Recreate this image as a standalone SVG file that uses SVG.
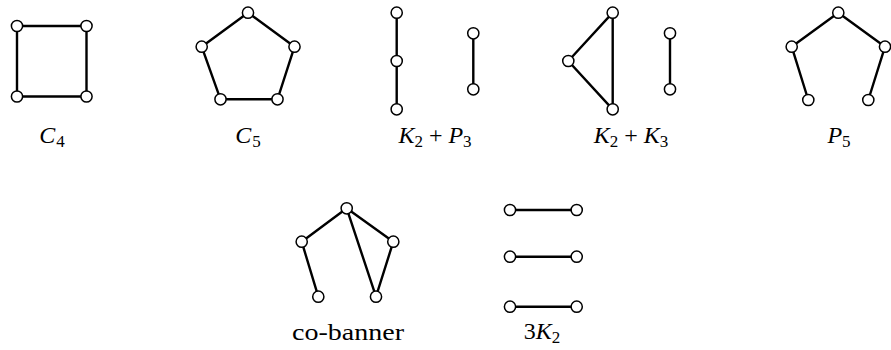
<svg xmlns="http://www.w3.org/2000/svg" width="891" height="350" viewBox="0 0 891 350">
<style>
.e{stroke:#000;stroke-width:2.4;fill:none;stroke-linecap:round}
text{font-family:'Liberation Serif','Times New Roman',serif;font-size:24px;fill:#000;text-anchor:middle}
.it{font-style:italic}
.sub{font-size:17px}
</style>
<defs><circle id="v" r="5.6" fill="#fff" stroke="#000" stroke-width="1.5"/></defs>
<rect width="891" height="350" fill="#fff"/>
<g id="connectors">
<path class="e" d="M17,26H86.5V96.5H17Z"/>
<path class="e" d="M248,12.7L294.5,46.7L277.5,99.3L220.5,99.3L201.7,46.7Z"/>
<path class="e" d="M396.7,12.7V109.3M473.3,33.3V89.3"/>
<path class="e" d="M568.3,61L612.7,12.7V109.3ZM670,33.3V89.3"/>
<path class="e" d="M808.3,100L791.7,46.7L838.3,12.7L885,46.7L868.3,100"/>
<path class="e" d="M318.3,296.7L301.7,241.7L346.7,208.3L393.3,241.7L376,296.7L346.7,208.3"/>
<path class="e" d="M510,210H576.7M510,256.7H576.7M510,306.7H576.7"/>
</g>
<g id="nodes">
<g id="c4-1"><use href="#v" x="17" y="26"/></g>
<g id="c4-2"><use href="#v" x="86.5" y="26"/></g>
<g id="c4-3"><use href="#v" x="17" y="96.5"/></g>
<g id="c4-4"><use href="#v" x="86.5" y="96.5"/></g>
<g id="c5-1"><use href="#v" x="248" y="12.7"/></g>
<g id="c5-2"><use href="#v" x="201.7" y="46.7"/></g>
<g id="c5-3"><use href="#v" x="294.5" y="46.7"/></g>
<g id="c5-4"><use href="#v" x="220.5" y="99.3"/></g>
<g id="c5-5"><use href="#v" x="277.5" y="99.3"/></g>
<g id="kp-1"><use href="#v" x="396.7" y="12.7"/></g>
<g id="kp-2"><use href="#v" x="396.7" y="61"/></g>
<g id="kp-3"><use href="#v" x="396.7" y="109.3"/></g>
<g id="kp-4"><use href="#v" x="473.3" y="33.3"/></g>
<g id="kp-5"><use href="#v" x="473.3" y="89.3"/></g>
<g id="kk-1"><use href="#v" x="568.3" y="61"/></g>
<g id="kk-2"><use href="#v" x="612.7" y="12.7"/></g>
<g id="kk-3"><use href="#v" x="612.7" y="109.3"/></g>
<g id="kk-4"><use href="#v" x="670" y="33.3"/></g>
<g id="kk-5"><use href="#v" x="670" y="89.3"/></g>
<g id="p5-1"><use href="#v" x="838.3" y="12.7"/></g>
<g id="p5-2"><use href="#v" x="791.7" y="46.7"/></g>
<g id="p5-3"><use href="#v" x="885" y="46.7"/></g>
<g id="p5-4"><use href="#v" x="808.3" y="100"/></g>
<g id="p5-5"><use href="#v" x="868.3" y="100"/></g>
<g id="cb-1"><use href="#v" x="346.7" y="208.3"/></g>
<g id="cb-2"><use href="#v" x="301.7" y="241.7"/></g>
<g id="cb-3"><use href="#v" x="393.3" y="241.7"/></g>
<g id="cb-4"><use href="#v" x="318.3" y="296.7"/></g>
<g id="cb-5"><use href="#v" x="376" y="296.7"/></g>
<g id="k3-1"><use href="#v" x="510" y="210"/></g>
<g id="k3-2"><use href="#v" x="576.7" y="210"/></g>
<g id="k3-3"><use href="#v" x="510" y="256.7"/></g>
<g id="k3-4"><use href="#v" x="576.7" y="256.7"/></g>
<g id="k3-5"><use href="#v" x="510" y="306.7"/></g>
<g id="k3-6"><use href="#v" x="576.7" y="306.7"/></g>
</g>
<g id="labels">
<text x="52" y="143"><tspan class="it">C</tspan><tspan class="sub" dx="1" dy="4">4</tspan></text>
<text x="248" y="143"><tspan class="it">C</tspan><tspan class="sub" dx="1" dy="4">5</tspan></text>
<text x="435" y="143"><tspan class="it">K</tspan><tspan class="sub" dy="4">2</tspan><tspan dx="6" dy="-4">+</tspan><tspan class="it" dx="6">P</tspan><tspan class="sub" dy="4">3</tspan></text>
<text x="631" y="143"><tspan class="it">K</tspan><tspan class="sub" dy="4">2</tspan><tspan dx="6" dy="-4">+</tspan><tspan class="it" dx="6">K</tspan><tspan class="sub" dy="4">3</tspan></text>
<text x="839" y="143"><tspan class="it">P</tspan><tspan class="sub" dy="4">5</tspan></text>
<text x="348" y="340" textLength="112" lengthAdjust="spacingAndGlyphs">co-banner</text>
<text x="542" y="339">3<tspan class="it">K</tspan><tspan class="sub" dy="4">2</tspan></text>
</g>
</svg>
